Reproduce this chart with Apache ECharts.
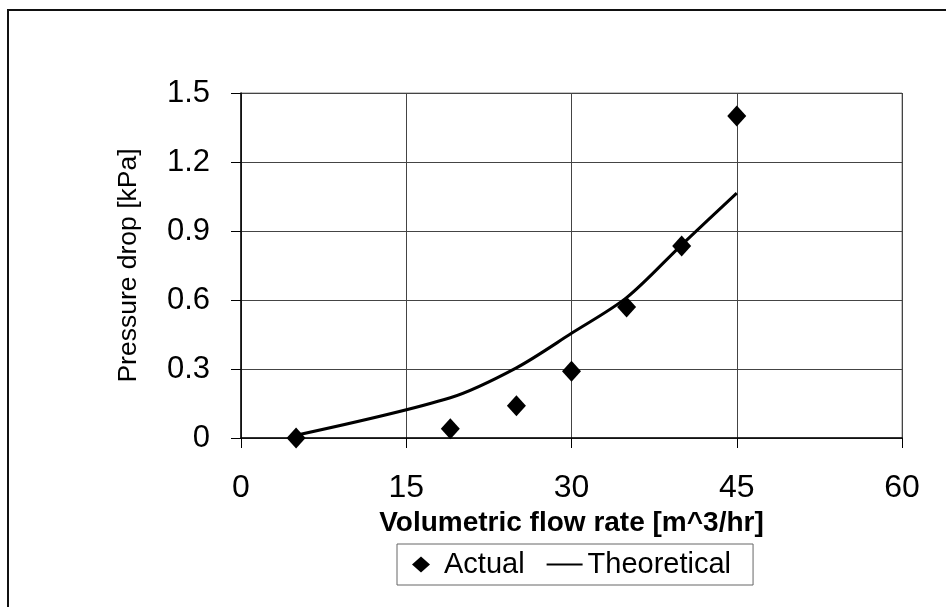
<!DOCTYPE html>
<html>
<head>
<meta charset="utf-8">
<script src="https://cdn.jsdelivr.net/npm/echarts@6/dist/echarts.min.js"></script>
<style>
  html, body { margin: 0; padding: 0; background: #fff; }
  #echart { width: 946px; height: 607px; }
</style>
</head>
<body>
<div id="echart"></div>
<script>
// measured points (flow rate m^3/hr, pressure drop kPa)
var actualFlow = [5, 19, 25, 30, 35, 40, 45];
var actualDrop = [0, 0.04, 0.14, 0.29, 0.57, 0.835, 1.4];

var theoFlow = [5, 19, 25, 30, 35, 40, 45];
var theoDrop = [0.012, 0.175, 0.305, 0.455, 0.61, 0.84, 1.065];

var xTicks = [0, 15, 30, 45, 60];
var yTicks = [0, 0.3, 0.6, 0.9, 1.2, 1.5];

var font = 'Arial, "Liberation Sans", sans-serif';

function pairs(xs, ys) {
  return xs.map(function (x, i) { return [x, ys[i]]; });
}

var option = {
  backgroundColor: '#fff',
  animation: false,
  textStyle: { fontFamily: font, color: '#000' },
  graphic: [{
    // outer chart frame (only top/left edges fall inside the picture)
    type: 'rect',
    shape: { x: 8, y: 10, width: 960, height: 620 },
    style: { fill: 'none', stroke: '#111', lineWidth: 2 }
  }],
  grid: {
    left: 241,
    right: 44,
    top: 93,
    bottom: 169,
    show: true,
    borderColor: '#888',
    borderWidth: 1
  },
  legend: {
    left: 397,
    top: 544,
    orient: 'horizontal',
    padding: [6, 22, 6, 6],
    itemGap: 22,
    itemWidth: 36,
    itemHeight: 16,
    symbolKeepAspect: true,
    borderColor: '#666',
    borderWidth: 1,
    textStyle: { fontSize: 29, color: '#000', fontFamily: font },
    data: [
      { name: 'Actual', icon: 'path://M0,0 M36,16 M18,0 L27,8 L18,16 L9,8 Z', itemStyle: { color: '#000', opacity: 1 } },
      { name: 'Theoretical', icon: 'path://M0,0 L36,0 L36,2 L0,2 Z', itemStyle: { color: '#000' } }
    ]
  },
  xAxis: {
    type: 'value',
    min: 0,
    max: 60,
    interval: 15,
    name: 'Volumetric flow rate [m^3/hr]',
    nameLocation: 'middle',
    nameGap: 49,
    nameTextStyle: { fontSize: 28, fontWeight: 'bold', color: '#000', fontFamily: font },
    axisLine: { show: true, lineStyle: { color: '#000', width: 1.5 } },
    axisTick: { show: true, inside: false, length: 10, lineStyle: { color: '#000' } },
    axisLabel: {
      fontSize: 32, color: '#000', margin: 34, fontFamily: font,
      formatter: function (v) { return xTicks.indexOf(v) >= 0 ? String(v) : ''; }
    },
    splitLine: { show: true, lineStyle: { color: '#444', width: 1 } }
  },
  yAxis: {
    type: 'value',
    min: 0,
    max: 1.5,
    interval: 0.3,
    name: 'Pressure drop [kPa]',
    nameLocation: 'middle',
    nameRotate: 90,
    nameGap: 99,
    nameTextStyle: { fontSize: 26.5, color: '#000', fontFamily: font },
    axisLine: { show: true, lineStyle: { color: '#000', width: 1.5 } },
    axisTick: { show: true, inside: false, length: 10, lineStyle: { color: '#000' } },
    axisLabel: {
      fontSize: 31, color: '#000', margin: 31, fontFamily: font,
      formatter: function (v) {
        var hit = yTicks.filter(function (t) { return Math.abs(t - v) < 1e-6; });
        if (!hit.length) return '';
        return hit[0] === 0 ? '0' : hit[0].toFixed(1);
      }
    },
    splitLine: { show: true, lineStyle: { color: '#444', width: 1 } }
  },
  series: [
    {
      name: 'Actual',
      type: 'scatter',
      symbol: 'diamond',
      symbolSize: [19, 21],
      itemStyle: { color: '#000', opacity: 1 },
      z: 3,
      data: pairs(actualFlow, actualDrop)
    },
    {
      name: 'Theoretical',
      type: 'line',
      smooth: 0.3,
      symbol: 'none',
      showSymbol: false,
      lineStyle: { color: '#000', width: 3 },
      itemStyle: { color: '#000' },
      z: 2,
      data: pairs(theoFlow, theoDrop)
    }
  ]
};

var chart = echarts.init(document.getElementById('echart'), null, { renderer: 'canvas' });
chart.setOption(option);
</script>
</body>
</html>
